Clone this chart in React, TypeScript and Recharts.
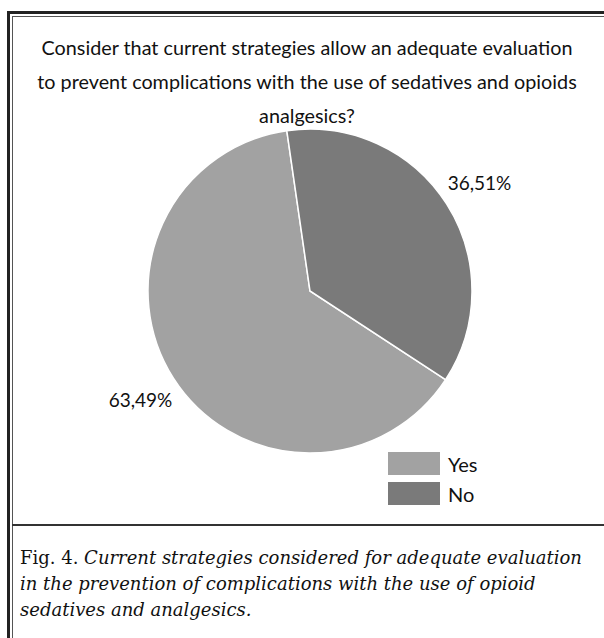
import React from 'react'
import { Pie, PieChart, Cell, Legend } from 'recharts'

const answers = ['Yes', 'No']
const shares = [63.49, 36.51]
const sliceColors = ['#a2a2a2', '#7a7a7a']

const titleLines = [
	'Consider that current strategies allow an adequate evaluation',
	'to prevent complications with the use of sedatives and opioids',
	'analgesics?',
]

const data = answers.map((name, i) => ({ name, value: shares[i] }))

const RAD = Math.PI / 180
const sansFont = 'Lato, "Open Sans", sans-serif'

const formatShare = (v: number) => v.toFixed(2).replace('.', ',') + '%'

const renderLabel = (props: any) => {
	const { cx, cy, midAngle, outerRadius, value } = props
	const r = outerRadius + 39
	const x = cx + r * Math.cos(-midAngle * RAD)
	const y = cy + r * Math.sin(-midAngle * RAD)
	return (
		<text x={x} y={y} textAnchor='middle' dominantBaseline='central' fill='#111' fontSize={19} fontFamily={sansFont}>
			{formatShare(value)}
		</text>
	)
}

const LegendBoxes = () => (
	<div style={{ fontFamily: sansFont, fontSize: 20, color: '#111' }}>
		{answers.map((name, i) => (
			<div key={name} style={{ display: 'flex', alignItems: 'center', height: 23, marginBottom: 7 }}>
				<div style={{ width: 52, height: 23, background: sliceColors[i], marginRight: 8 }} />
				<span>{name}</span>
			</div>
		))}
	</div>
)

const App = () => {
	return (
		<div style={{ position: 'absolute', left: 0, top: 0, width: 604, height: 638, background: '#fff', overflow: 'hidden' }}>
			<div style={{ position: 'absolute', left: 7, top: 11, width: 700, height: 700, borderLeft: '3px solid #222', borderTop: '3px solid #222' }} />
			<div style={{ position: 'absolute', left: 12, top: 16, width: 700, height: 700, borderLeft: '1px solid #555', borderTop: '1px solid #555' }} />
			<div style={{ position: 'absolute', left: 12, top: 524, width: 700, height: 2, background: '#333' }} />

			<div style={{ position: 'absolute', left: 0, top: 30, width: 614, textAlign: 'center', fontFamily: sansFont, fontSize: 19.8, lineHeight: '34px', color: '#111' }}>
				{titleLines.map((t) => (
					<div key={t}>{t}</div>
				))}
			</div>

			<div style={{ position: 'absolute', left: 0, top: 0 }}>
				<PieChart width={604} height={520} margin={{ top: 0, right: 0, bottom: 0, left: 0 }}>
					<Pie
						data={data}
						dataKey='value'
						nameKey='name'
						cx={310}
						cy={291}
						outerRadius={162}
						startAngle={-33.2}
						endAngle={-393.2}
						stroke='#fff'
						strokeWidth={1.5}
						label={renderLabel}
						labelLine={false}
						isAnimationActive={false}
					>
						{data.map((d, i) => (
							<Cell key={d.name} fill={sliceColors[i]} />
						))}
					</Pie>
					<Legend
						layout='vertical'
						verticalAlign='top'
						align='right'
						wrapperStyle={{ left: 388, top: 452, width: 120 }}
						content={() => <LegendBoxes />}
					/>
				</PieChart>
			</div>

			<div style={{ position: 'absolute', left: 20, top: 545, width: 600, fontFamily: '"DejaVu Serif", serif', fontSize: 18, lineHeight: '26px', color: '#111' }}>
				Fig. 4. <i>Current strategies considered for adequate evaluation</i>
				<br />
				<i>in the prevention of complications with the use of opioid</i>
				<br />
				<i>sedatives and analgesics.</i>
			</div>
		</div>
	)
}

export default App
